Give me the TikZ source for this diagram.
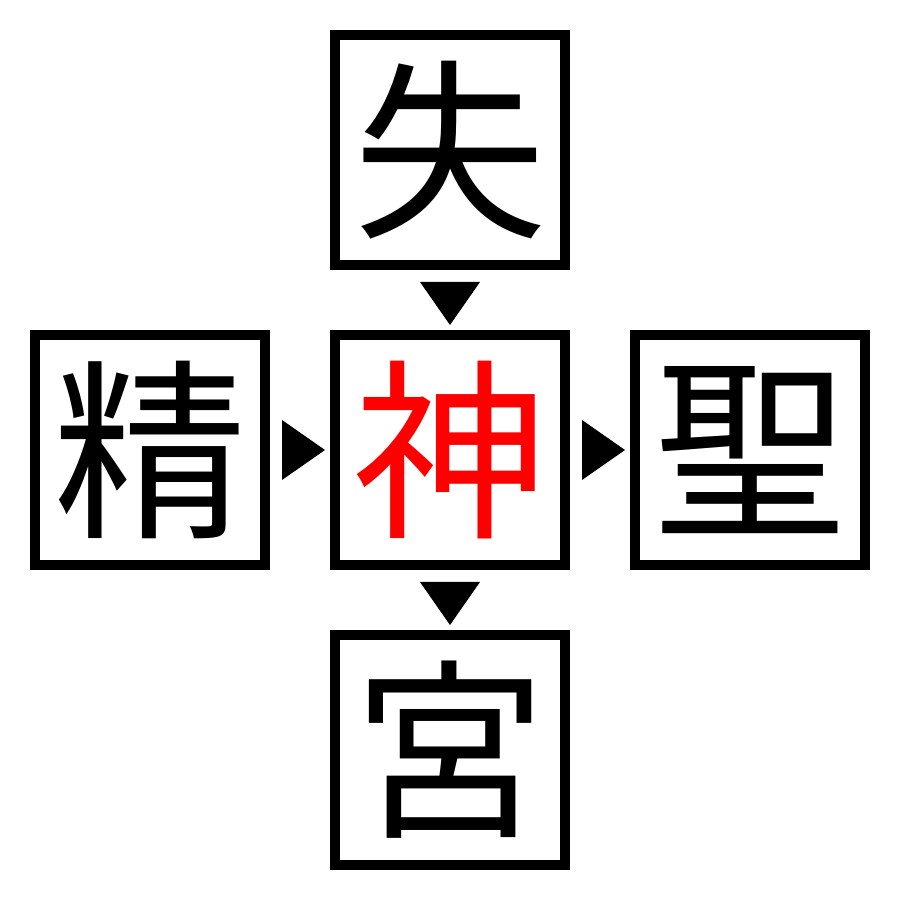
\documentclass[tikz,border=0pt]{standalone}
\usepackage{fontspec}
\newfontfamily\cjk{Noto Sans CJK JP}
\usepackage{tikz}
\usetikzlibrary{positioning}

\begin{document}
\begin{tikzpicture}[kanji/.style={draw, line width=1mm, minimum size=23mm,
					inner sep=0pt, font=\cjk\fontsize{55pt}{55pt}\selectfont}]
	\useasboundingbox (0,0) rectangle (9,9);

	\node[kanji] (shi) at (4.5,7.5) {失};
	\node[kanji] (sei) at (1.5,4.5) {精};
	\node[kanji, text=red] (shin) at (4.5,4.5) {神};
	\node[kanji] (sho) at (7.5,4.5) {聖};
	\node[kanji] (kyu) at (4.5,1.5) {宮};

	% triangles between the boxes
	\fill (4.2,6.18) -- (4.8,6.18) -- (4.5,5.75) -- cycle;
	\fill (2.82,4.8) -- (2.82,4.2) -- (3.25,4.5) -- cycle;
	\fill (5.82,4.8) -- (5.82,4.2) -- (6.25,4.5) -- cycle;
	\fill (4.2,3.18) -- (4.8,3.18) -- (4.5,2.75) -- cycle;
\end{tikzpicture}
\end{document}
